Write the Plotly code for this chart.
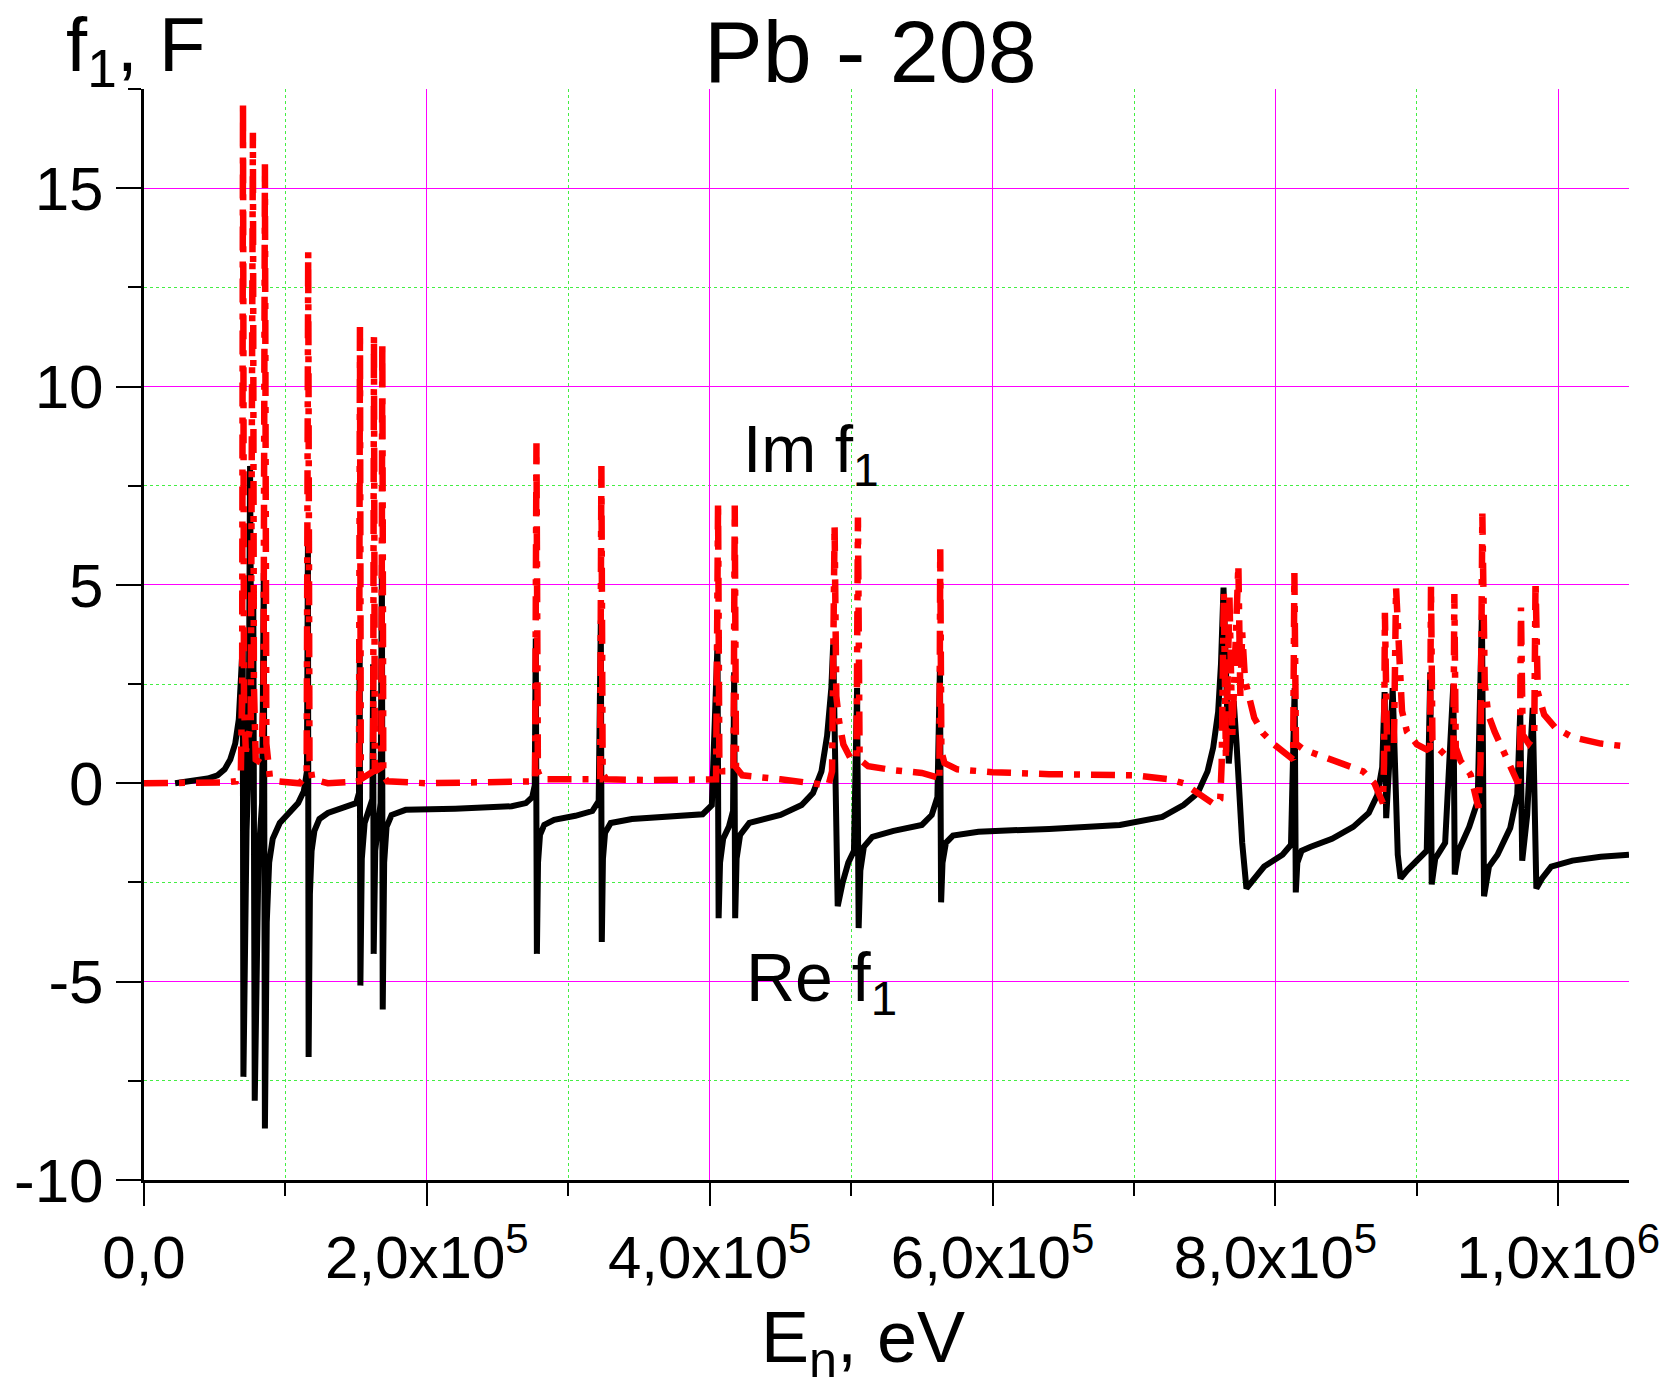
import plotly.graph_objects as go

# Re f1 (black solid)
re_energy = [22000, 35000, 45000, 52000, 57000, 61000, 64500, 67000, 69000, 69800,
             70300, 71200, 72500, 74000, 75000, 76000, 77300, 78300, 79500, 81000,
             83500, 84700, 85500, 86800, 88500, 91000, 96000, 103000, 109000, 113000,
             115200, 115900, 116400, 117300, 118500, 120500, 124000, 130000, 140000, 150000, 152000,
             152500, 153000, 154000, 156000, 159000, 161500, 162000, 162400, 163500, 165500, 167300, 168200,
             168800, 169800, 171500, 175000, 185000, 220000, 260000, 270000, 274500, 276300, 277000, 277800,
             278600, 280000, 283000, 290000, 305000, 317000, 321500, 323000, 323700, 324500, 326000, 330000, 345000, 370000,
             395000, 401500, 405500, 406300, 407300, 409500, 413500, 416500, 417300, 418000, 419000, 421500,
             428000, 450000, 465000, 473000, 479000, 483000, 486000, 487300, 490500, 494000,
             498000, 502000, 504200, 505300, 506500, 509000, 515000, 530000, 550000, 557000, 561000,
             562800, 563600, 564600, 567000, 572000, 590000, 640000, 690000, 720000, 735000, 745000,
             752000, 756000, 759500, 761500, 763300, 767000, 770500, 772500, 776500, 779500,
             783000, 792000, 805000, 811000, 813600, 814400, 815500, 818500, 825000, 840000, 855000,
             866000, 872000, 875500, 877200, 878300, 880500, 882900, 886500, 888500, 893000,
             900000, 907000, 909500, 910500, 913000, 920000, 925800, 926800, 929500, 937000,
             943000, 946000, 947500, 951000, 957000, 966000, 971000, 973100, 974500, 978000,
             981900, 984500, 988500, 995000, 1010000, 1030000, 1050000]
re_f1 = [0.0, 0.05, 0.12, 0.2, 0.35, 0.6, 1.0, 1.6, 2.6, 3.5,
         -7.4, -3.0, -1.2, 0.5, 8.0, 1.5, 4.5, -8.0, -3.5, -1.8,
         -0.5, 5.3, -8.7, -3.5, -2.0, -1.4, -1.0, -0.75, -0.5, -0.2,
         0.3, 6.0, -6.9, -2.8, -1.7, -1.2, -0.9, -0.75, -0.62, -0.5, -0.25,
         3.3, -5.1, -1.9, -1.0, -0.7, -0.4, 3.0, -4.3, -1.7, -0.9, -0.5, 5.5,
         -5.7, -2.0, -1.1, -0.8, -0.67, -0.64, -0.58, -0.5, -0.35, -0.05, 3.65, -4.3,
         -2.0, -1.3, -1.05, -0.92, -0.82, -0.7, -0.45, 4.1, -4.0, -1.9, -1.25, -1.0, -0.9, -0.85,
         -0.78, -0.55, 3.5, -3.4, -2.0, -1.4, -1.1, -0.7, 2.8, -3.4, -1.9, -1.3,
         -1.0, -0.8, -0.55, -0.25, 0.3, 1.2, 2.4, 3.5, -3.1, -2.5,
         -2.0, -1.7, 2.4, -3.65, -2.2, -1.6, -1.35, -1.2, -1.05, -0.8, -0.35,
         2.95, -3.0, -2.0, -1.5, -1.32, -1.22, -1.15, -1.05, -0.85, -0.55, -0.25,
         0.3, 0.9, 1.8, 3.0, 4.93, 0.5, 2.07, 1.0, -1.5, -2.65,
         -2.5, -2.1, -1.8, -1.55, 2.4, -2.75, -2.0, -1.7, -1.6, -1.4, -1.1,
         -0.75, -0.3, 0.4, 2.3, -0.88, 0.5, 2.4, -1.8, -2.4, -2.2,
         -1.97, -1.7, 2.8, -2.55, -1.9, -1.5, 2.5, -2.3, -1.7, -1.1,
         -0.45, 4.26, -2.85, -2.1, -1.8, -1.13, -0.28, 1.82, -1.95, -0.8,
         1.9, -2.65, -2.4, -2.1, -1.95, -1.85, -1.8]

# Im f1 (red dash-dot)
im_energy = [0, 30000, 55000, 65000, 68500, 69400, 70000, 70700, 72000, 75500,
             77000, 77700, 79000, 83000, 84500, 85500, 86500, 89000, 95000, 110000,
             115000, 116100, 117000, 119000, 130000, 152000, 152700, 153300, 162000, 162600,
             163200, 167800, 168500, 169200, 172000, 200000, 240000, 276500, 277500, 278500,
             281000, 322500, 323400, 324300, 327000, 360000, 404500, 405900, 406800, 409000,
             416800, 417700, 418600, 423000, 450000, 475000, 484000, 486500, 488300, 489500,
             491500, 494500, 500000, 503800, 504800, 506000, 512000, 530000, 550000, 561000,
             562400, 563000, 563800, 566000, 575000, 600000, 640000, 700000, 725000, 735000,
             748000, 757500, 761000, 762000, 763500, 765000, 767500, 769500, 773800, 775200,
             776500, 778500, 785000, 791000, 799000, 808000, 812500, 813400, 814500, 820000,
             835000, 850000, 862000, 870000, 874000, 876000, 876800, 877400, 879000, 883800,
             885300, 887500, 889500, 893000, 900000, 907000, 909300, 910000, 911000, 915000,
             922000, 925800, 926500, 927500, 931000, 938000, 943500, 945000, 946300, 948000,
             950500, 955000, 962000, 968000, 971500, 972800, 973600, 974800, 979000, 983000,
             983900, 985500, 990000, 998000, 1010000, 1030000, 1050000]
im_f1 = [0.0, 0.0, 0.02, 0.05, 0.3, 2.5, 17.2, 2.0, 0.8, 1.5,
         16.4, 2.5, 0.6, 0.5, 2.3, 15.6, 1.0, 0.15, 0.05, 0.0,
         0.2, 13.4, 0.6, 0.1, 0.0, 0.05, 11.5, 0.1, 0.3, 11.3,
         0.3, 0.4, 11.15, 0.2, 0.05, 0.0, 0.02, 0.05, 8.57, 0.3,
         0.1, 0.1, 8.0, 0.25, 0.1, 0.08, 0.1, 7.1, 0.6, 0.3,
         0.3, 7.0, 0.4, 0.2, 0.1, 0.0, -0.05, 0.3, 6.5, 2.2,
         1.56, 0.98, 0.6, 0.6, 6.7, 0.6, 0.43, 0.33, 0.26, 0.15,
         0.05, 5.9, 0.8, 0.51, 0.35, 0.28, 0.23, 0.2, 0.1, 0.0,
         -0.3, -0.55, -0.4, 0.5, 4.8, 0.6, 4.7, 1.2, 5.5, 2.2,
         3.8, 2.6, 1.65, 1.27, 0.98, 0.7, 0.6, 5.3, 1.0, 0.85,
         0.65, 0.45, 0.3, 0.0, -0.4, -0.5, 0.5, 4.3, 0.8, 1.0,
         4.93, 2.9, 1.82, 1.3, 0.98, 0.85, 0.9, 4.97, 1.1, 0.89,
         0.64, 0.6, 4.77, 0.9, 0.56, 0.22, -0.62, 0.5, 6.8, 2.5,
         1.73, 1.3, 0.72, 0.22, 0.0, 0.3, 4.43, 1.23, 1.0, 1.2,
         5.1, 2.3, 1.73, 1.4, 1.16, 1.0, 0.92]

x_ticks = [0, 200000, 400000, 600000, 800000, 1000000]
x_ticktext = ["0,0", "2,0x10<sup>5</sup>", "4,0x10<sup>5</sup>", "6,0x10<sup>5</sup>",
              "8,0x10<sup>5</sup>", "1,0x10<sup>6</sup>"]
y_ticks = [-10, -5, 0, 5, 10, 15]
y_ticktext = ["-10", "-5", "0", "5", "10", "15"]

font_main = "Liberation Sans, Arial, sans-serif"

fig = go.Figure()
fig.add_trace(go.Scatter(x=re_energy, y=re_f1, mode="lines",
                         line=dict(color="black", width=6), name="Re f1"))
fig.add_trace(go.Scatter(x=im_energy, y=im_f1, mode="lines",
                         line=dict(color="#ff0000", width=6.5, dash="24px,11px,6px,11px"),
                         name="Im f1"))

fig.update_layout(
    width=1671, height=1391,
    margin=dict(l=144, r=42, t=89, b=211),
    plot_bgcolor="white", paper_bgcolor="white",
    showlegend=False,
    font=dict(family=font_main, color="black"),
    xaxis=dict(
        range=[0, 1050000], tickmode="array", tickvals=x_ticks, ticktext=x_ticktext,
        automargin=False,
        ticks="outside", ticklen=23, tickwidth=2, tickcolor="black",
        showline=True, linewidth=3, linecolor="black", zeroline=False,
        showgrid=True, gridcolor="#ff00ff", gridwidth=1,
        tickfont=dict(family=font_main, size=60),
        minor=dict(tick0=0, dtick=100000, ticks="outside", ticklen=13, tickwidth=2,
                   tickcolor="black", showgrid=True, gridcolor="#44ee44",
                   griddash="dot", gridwidth=1),
    ),
    yaxis=dict(
        range=[-10, 17.5], tickmode="array", tickvals=y_ticks, ticktext=y_ticktext,
        automargin=False,
        ticks="outside", ticklen=25, tickwidth=2, tickcolor="black",
        showline=True, linewidth=3, linecolor="black", zeroline=False,
        showgrid=True, gridcolor="#ff00ff", gridwidth=1,
        tickfont=dict(family=font_main, size=62),
        minor=dict(tick0=0, dtick=2.5, ticks="outside", ticklen=13, tickwidth=2,
                   tickcolor="black", showgrid=True, gridcolor="#44ee44",
                   griddash="dot", gridwidth=1),
    ),
)

fig.add_annotation(text="Pb - 208", xref="paper", yref="paper", x=0.489, y=1.0816,
                   xanchor="center", yanchor="top", showarrow=False,
                   font=dict(size=88, family=font_main))
fig.add_annotation(text="f<sub>1</sub>, F", xref="paper", yref="paper", x=-0.054, y=1.0816,
                   xanchor="left", yanchor="top", showarrow=False,
                   font=dict(size=76, family=font_main))
fig.add_annotation(text="E<sub>n</sub>, eV", xref="paper", yref="paper", x=0.484, y=-0.1925,
                   xanchor="center", yanchor="bottom", showarrow=False,
                   font=dict(size=72, family=font_main))
fig.add_annotation(text="Im f<sub>1</sub>", x=422000, y=8.3, xanchor="left", yanchor="middle",
                   showarrow=False, font=dict(size=66, family=font_main))
fig.add_annotation(text="Re f<sub>1</sub>", x=424000, y=-5.0, xanchor="left", yanchor="middle",
                   showarrow=False, font=dict(size=68, family=font_main))

fig.write_html("out.html", config={"displayModeBar": False},
               post_script="document.body.style.margin='0px';document.body.style.overflow='hidden';")
